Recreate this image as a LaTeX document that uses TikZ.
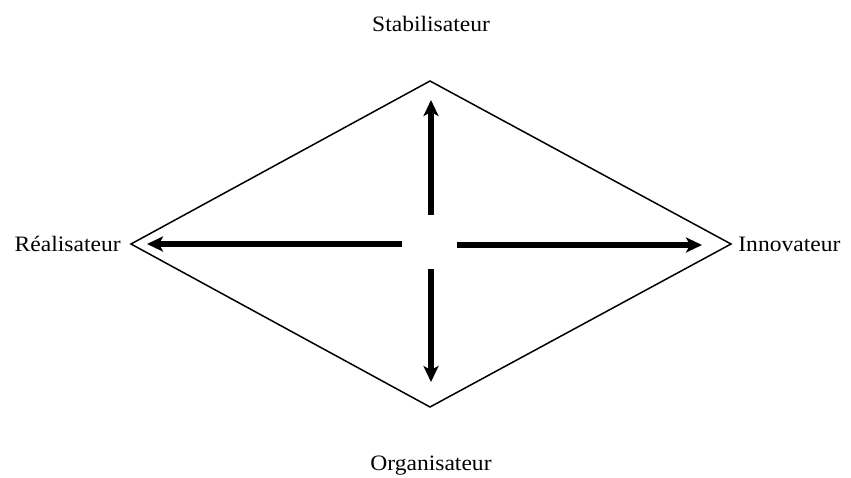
\documentclass[tikz,border=0pt]{standalone}
\usepackage{fontspec}
\setmainfont{Liberation Serif}[FakeStretch=1.07]
\usetikzlibrary{arrows.meta}
\begin{document}
\begin{tikzpicture}[x=0.5pt,y=-0.5pt,
  edge/.style={line width=0.75pt, line join=miter},
  role/.style={font=\fontsize{11}{13}\selectfont, inner sep=0pt},
  pull/.style={line width=2.7pt, -{Stealth[length=8pt,width=7.5pt,inset=2pt]}}]
\useasboundingbox (0,0) rectangle (851,477);
% diamond outline
\coordinate (T) at (430,81);
\coordinate (R) at (731,244);
\coordinate (B) at (430,407);
\coordinate (L) at (131,244);
\draw[edge] (T) -- (R) -- (B) -- (L) -- cycle;
% arrow ends
\coordinate (us) at (431,215);
\coordinate (ue) at (431,100);
\coordinate (ls) at (402,244);
\coordinate (le) at (147,244);
\coordinate (rs) at (457,245);
\coordinate (re) at (702,245);
\coordinate (ds) at (431,269);
\coordinate (de) at (431,382);
\draw[pull] (us) -- (ue);
\draw[pull] (ls) -- (le);
\draw[pull] (rs) -- (re);
\draw[pull] (ds) -- (de);
% labels
\node[role] (stab) at (431,24) {Stabilisateur};
\node[role, anchor=east] (real) at (121,244) {Réalisateur};
\node[role, anchor=west] (inno) at (738,244) {Innovateur};
\node[role] (orga) at (431,466) {Organisateur};
\end{tikzpicture}
\end{document}
